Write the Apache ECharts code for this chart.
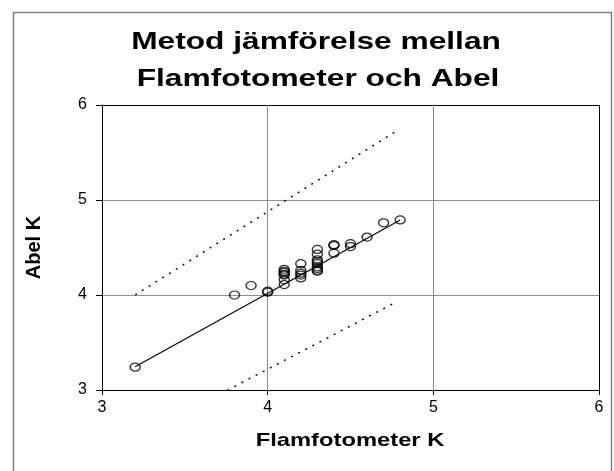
<!DOCTYPE html>
<html>
<head>
<meta charset="utf-8">
<script src="https://cdn.jsdelivr.net/npm/echarts@6/dist/echarts.min.js"></script>
<style>
html,body{margin:0;padding:0;background:#fff;}
#chart{width:614px;height:471px;}
</style>
</head>
<body>
<div id="chart"></div>
<script>
// Data
const titleLines = ['Metod jämförelse mellan', 'Flamfotometer och Abel'];
const xName = 'Flamfotometer K';
const yName = 'Abel K';
const xTicks = [3, 4, 5, 6];
const yTicks = [3, 4, 5, 6];

// Measured pairs: Flamfotometer K (x), Abel K (y)
const flamK = [3.2, 3.8, 3.9, 4.0, 4.0,
  4.1, 4.1, 4.1, 4.1, 4.1, 4.1, 4.1,
  4.2, 4.2, 4.2, 4.2, 4.2,
  4.3, 4.3, 4.3, 4.3, 4.3, 4.3, 4.3, 4.3, 4.3,
  4.4, 4.4, 4.4, 4.5, 4.5, 4.6, 4.7, 4.8];
const abelK = [3.24, 4.0, 4.1, 4.03, 4.04,
  4.27, 4.25, 4.24, 4.22, 4.21, 4.16, 4.11,
  4.33, 4.26, 4.23, 4.21, 4.18,
  4.48, 4.43, 4.37, 4.35, 4.33, 4.30, 4.28, 4.26, 4.25,
  4.53, 4.52, 4.44, 4.54, 4.51, 4.61, 4.76, 4.79];

// Regression line and limit lines (end points)
const regX = [3.2, 4.8];
const regY = [3.245, 4.79];
const upperX = [3.2, 4.78];
const upperY = [4.0, 5.73];
const lowerX = [3.2, 4.78];
const lowerY = [2.49, 3.93];

const zip = (a, b) => a.map((v, i) => [v, b[i]]);
const font = '"Liberation Sans", Arial, sans-serif';

const chart = echarts.init(document.getElementById('chart'), null, {renderer: 'canvas'});
chart.setOption({
  animation: false,
  backgroundColor: '#fff',
  grid: {left: 102, right: 15, top: 105, bottom: 81, show: false},
  xAxis: {
    type: 'value', min: xTicks[0], max: xTicks[xTicks.length - 1], interval: 1,
    axisLine: {show: true, onZero: false, lineStyle: {color: '#000', width: 1}},
    axisTick: {show: true, inside: false, length: 5, lineStyle: {color: '#000'}},
    axisLabel: {color: '#000', fontSize: 16, fontFamily: font, margin: 10},
    splitLine: {show: true, lineStyle: {color: ['#000', '#909090', '#909090', '#000'], width: 1}}
  },
  yAxis: {
    type: 'value', min: yTicks[0], max: yTicks[yTicks.length - 1], interval: 1,
    name: yName, nameLocation: 'middle', nameGap: 58, nameRotate: 90,
    nameTextStyle: {color: '#000', fontSize: 20, fontWeight: 'bold', fontFamily: font},
    axisLine: {show: true, onZero: false, lineStyle: {color: '#000', width: 1}},
    axisTick: {show: true, inside: false, length: 6, lineStyle: {color: '#000'}},
    axisLabel: {color: '#000', fontSize: 16, fontFamily: font, margin: 15},
    splitLine: {show: true, lineStyle: {color: ['#000', '#909090', '#909090', '#000'], width: 1}}
  },
  graphic: [
    {type: 'rect', shape: {x: 13.5, y: 12.5, width: 598, height: 480}, silent: true,
      style: {fill: 'none', stroke: '#808080', lineWidth: 1.5}, z: -1},
    {type: 'text', x: 316, y: 42, scaleX: 1.32, silent: true,
      style: {text: titleLines[0], fontSize: 24, fontWeight: 'bold', fontFamily: font,
        fill: '#000', textAlign: 'center', textVerticalAlign: 'middle'}},
    {type: 'text', x: 318, y: 79, scaleX: 1.32, silent: true,
      style: {text: titleLines[1], fontSize: 24, fontWeight: 'bold', fontFamily: font,
        fill: '#000', textAlign: 'center', textVerticalAlign: 'middle'}},
    {type: 'text', x: 350, y: 441, scaleX: 1.25, silent: true,
      style: {text: xName, fontSize: 19, fontWeight: 'bold', fontFamily: font,
        fill: '#000', textAlign: 'center', textVerticalAlign: 'middle'}}
  ],
  series: [
    {
      type: 'line', data: zip(upperX, upperY), symbol: 'none', silent: true,
      lineStyle: {color: '#000', width: 1.4, type: [2, 6]}
    },
    {
      type: 'line', data: zip(lowerX, lowerY), symbol: 'none', silent: true, clip: true,
      lineStyle: {color: '#000', width: 1.4, type: [2, 6]}
    },
    {
      type: 'line', data: zip(regX, regY), symbol: 'none', silent: true,
      lineStyle: {color: '#000', width: 1.1}
    },
    {
      type: 'scatter', data: zip(flamK, abelK),
      symbol: 'path://M0,5A5,5,0,1,1,10,5A5,5,0,1,1,0,5Z',
      symbolSize: [10, 8],
      itemStyle: {color: 'rgba(0,0,0,0)', borderColor: '#000', borderWidth: 1.3}
    }
  ]
});
</script>
</body>
</html>
